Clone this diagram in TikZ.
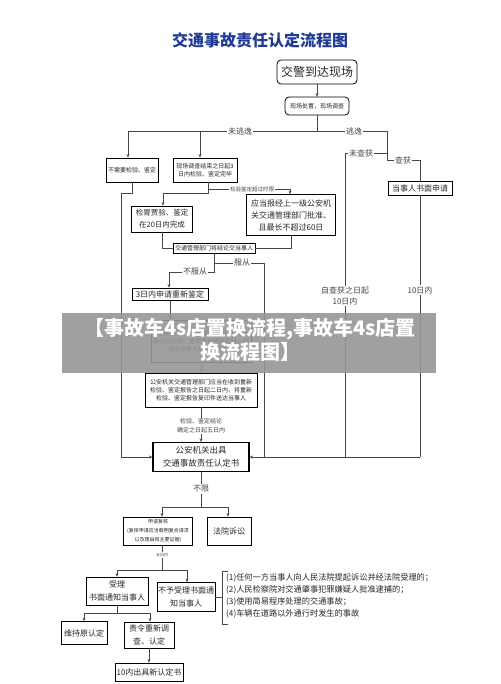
\documentclass[tikz,border=0pt]{standalone}
\usepackage{fontspec}
\setmainfont{Noto Sans CJK SC}
\usetikzlibrary{arrows.meta}
\definecolor{titleblue}{RGB}{32,58,150}
\definecolor{linegray}{RGB}{70,70,70}
\definecolor{bannergray}{RGB}{150,150,150}
\newcommand{\fsz}[2]{\fontsize{#1}{#2}\selectfont}
\begin{document}
\begin{tikzpicture}
	[x=1pt, y=-1pt,
	box/.style={draw, line width=0.8pt, align=center, inner sep=1pt, text=black!85, font=\fsz{8}{11}},
	rbox/.style={box, rounded corners=4pt},
	tiny/.style={font=\fsz{6}{8}},
	lab/.style={fill=white, inner sep=1pt, text=linegray, font=\fsz{8}{11}},
	conn/.style={draw=linegray, line width=0.6pt},
	arr/.style={conn, -{Stealth[length=3.5pt, width=3pt]}}]
	\useasboundingbox (0,0) rectangle (500,684);
	\node[font=\bfseries\fsz{16}{18}, text=titleblue] (title) at (260,40) {交通事故责任认定流程图};
	\node[rbox, font=\fsz{12}{14}, minimum width=80pt, minimum height=24pt] (arrive) at (317,72) {交警到达现场};
	\node[rbox, tiny, minimum width=64pt, minimum height=18pt] (survey) at (317,106) {现场处置，现场调查};
	\node[box, tiny, minimum width=52pt, minimum height=24pt] (noinsp) at (132,170) {不需要检验、鉴定};
	\node[box, tiny, minimum width=64pt, minimum height=24pt] (insp3) at (205,170) {现场调查结束之日起3\\日内检验、鉴定完毕};
	\node[box, font=\fsz{7.5}{12}, minimum width=61pt, minimum height=26pt] (insp20) at (162,219) {检胃贾验、鉴定\\在20日内完成};
	\node[box, font=\fsz{8}{12}, minimum width=89pt, minimum height=41pt] (insp60) at (291,215) {应当报经上一级公安机\\关交通管理部门批准、\\且最长不超过60日};
	\node[box, tiny, minimum width=82pt, minimum height=10pt] (result) at (214,248) {交通管理部门将结论交当事人};
	\node[box, minimum width=76pt, minimum height=12pt] (recheck) at (170,294) {3日内申请重新鉴定};
	\node[box, tiny, minimum width=100pt, minimum height=42pt] (redo) at (201,341) {批准后另行委托检验、鉴定机构或\\者由原检验、鉴定机构重新检验，并\\送达当事人重新检验结论};
	\node[box, tiny, minimum width=112pt, minimum height=34pt] (copy) at (201,390) {公安机关交通管理部门应当在收到重新\\检验、鉴定报告之日起二日内，将重新\\检验、鉴定报告复印件送达当事人};
	\node[box, line width=1.2pt, font=\fsz{8.5}{13}, minimum width=96pt, minimum height=29pt] (issue) at (201,457) {公安机关出具\\交通事故责任认定书};
	\node[box, minimum width=64pt, minimum height=14pt] (apply) at (420,188) {当事人书面申请};
	\node[box, font=\fsz{5}{9}, minimum width=69pt, minimum height=28pt] (review) at (158,531) {申请复核\\(复核申请应当载明复合请求\\以及理由和主要证据)};
	\node[box, minimum width=44pt, minimum height=28pt] (court) at (229,531) {法院诉讼};
	\node[box, font=\fsz{8}{13}, minimum width=62pt, minimum height=28pt] (accept) at (117,591) {受理\\书面通知当事人};
	\node[box, font=\fsz{8}{13}, minimum width=58pt, minimum height=29pt] (reject) at (186,597) {不予受理书面通\\知当事人};
	\node[box, minimum width=46pt, minimum height=23pt] (keep) at (84,633) {维持原认定};
	\node[box, font=\fsz{8}{13}, minimum width=50pt, minimum height=26pt] (reinv) at (149,635) {责令重新调\\查、认定};
	\node[box, minimum width=68pt, minimum height=18pt] (newdoc) at (149,672) {10内出具新认定书};
	\node[anchor=north west, align=left, inner sep=0pt, text=black!85, font=\fsz{8.2}{12}] (cases) at (226,573) {(1)任何一方当事人向人民法院提起诉讼并经法院受理的；\\(2)人民检察院对交通肇事犯罪嫌疑人批准逮捕的；\\(3)使用简易程序处理的交通事故；\\(4)车辆在道路以外通行时发生的事故};

	\draw[arr] (arrive) -- (survey);
	\coordinate (top) at (317,131);
	\coordinate (noesc) at (128,131);
	\coordinate (esc) at (387,131);
	\coordinate (c3) at (200,131);
	\draw[conn] (survey) -- (top);
	\draw[conn] (noesc) -- (esc);
	\draw[arr] (noesc) -- (noesc |- noinsp.north);
	\draw[arr] (c3) -- (c3 |- insp3.north);
	\node[lab] at (240,131) {未逃逸};
	\node[lab] at (354,131) {逃逸};

	\coordinate (nocatch) at (345,153);
	\coordinate (catch) at (420,160);
	\draw[conn] (esc) -- (esc |- catch) -- (catch) -- (apply.north);
	\draw[conn] (esc |- nocatch) -- (nocatch) -- (nocatch |- issue.east);
	\node[lab] at (361,153) {未查获};
	\node[lab] at (403,160) {查获};
	\draw[conn] (apply.south) -- (apply.south |- issue.east);
	\draw[arr] (apply.south |- issue.east) -- (issue.east);
	\node[lab, align=center] at (345,296) {自查获之日起\\10日内};
	\node[lab] at (420,290) {10日内};

	\coordinate (lbend) at (121,193);
	\draw[conn] (noinsp.south) -- (noinsp.south |- lbend) -- (lbend);
	\draw[arr] (lbend) |- (issue.west);

	\coordinate (over) at (208,189);
	\coordinate (in20) at (163,193);
	\coordinate (to60) at (290,189);
	\draw[conn] (over |- insp3.south) -- (over |- in20) -- (in20);
	\draw[arr] (in20) -- (in20 |- insp20.north);
	\draw[arr] (over) -- (to60) -- (to60 |- insp60.north);
	\node[lab, font=\fsz{5.5}{6}] at (252,189) {检验鉴定超过时限};

	\draw[conn] (insp20.south) |- (result.west);
	\draw[conn] (insp60.south) |- (result.east);
	\coordinate (obey) at (264,263);
	\coordinate (disobey) at (169,272);
	\draw[conn] (result.south) -- (result.south |- disobey) -- (disobey);
	\draw[conn] (result.south |- obey) -- (obey) -- (obey |- issue.east);
	\draw[arr] (disobey) -- (disobey |- recheck.north);
	\node[lab] at (242,263) {服从};
	\node[lab] at (195,272) {不服从};

	\draw[arr] (recheck.south) -- (recheck.south |- redo.north);
	\draw[arr] (redo.south) -- (copy.north);
	\draw[arr] (copy.south) -- (issue.north);
	\node[lab, align=center, font=\fsz{6}{9}] at (201,426) {检验、鉴定结论\\确定之日起五日内};

	\coordinate (unl) at (201,507);
	\coordinate (rv) at (162,507);
	\coordinate (ct) at (228,507);
	\draw[conn] (issue.south) -- (unl);
	\draw[conn] (rv) -- (ct);
	\draw[arr] (rv) -- (rv |- review.north);
	\draw[arr] (ct) -- (ct |- court.north);
	\node[lab] at (201,489) {不限};

	\coordinate (fd) at (162,570);
	\coordinate (acc) at (117,570);
	\coordinate (rej) at (187,570);
	\draw[conn] (fd |- review.south) -- (fd);
	\draw[conn] (acc) -- (rej);
	\draw[arr] (acc) -- (acc |- accept.north);
	\draw[arr] (rej) -- (rej |- reject.north);
	\node[lab, font=\fsz{4}{5}] at (162,555) {五日内};

	\coordinate (ak) at (117,613);
	\coordinate (kp) at (84,613);
	\coordinate (ri) at (150,613);
	\draw[conn] (accept.south) -- (ak);
	\draw[conn] (kp) -- (ri);
	\draw[arr] (kp) -- (kp |- keep.north);
	\draw[arr] (ri) -- (ri |- reinv.north);
	\draw[arr] (reinv.south) -- (newdoc.north);

	\coordinate (bt) at (228,571);
	\coordinate (bb) at (228,624);
	\coordinate (bm) at (222,597);
	\draw[conn] (bt) -- (bm |- bt) -- (bm |- bb) -- (bb);
	\draw[conn] (reject.east) -- (bm);

	\fill[bannergray, opacity=0.9] (62,313) rectangle (436,373);
	\node[text=white, align=center, font=\bfseries\fsz{20}{24}] (banner) at (250,340) {【事故车4s店置换流程,事故车4s店置\\换流程图】};
\end{tikzpicture}
\end{document}
